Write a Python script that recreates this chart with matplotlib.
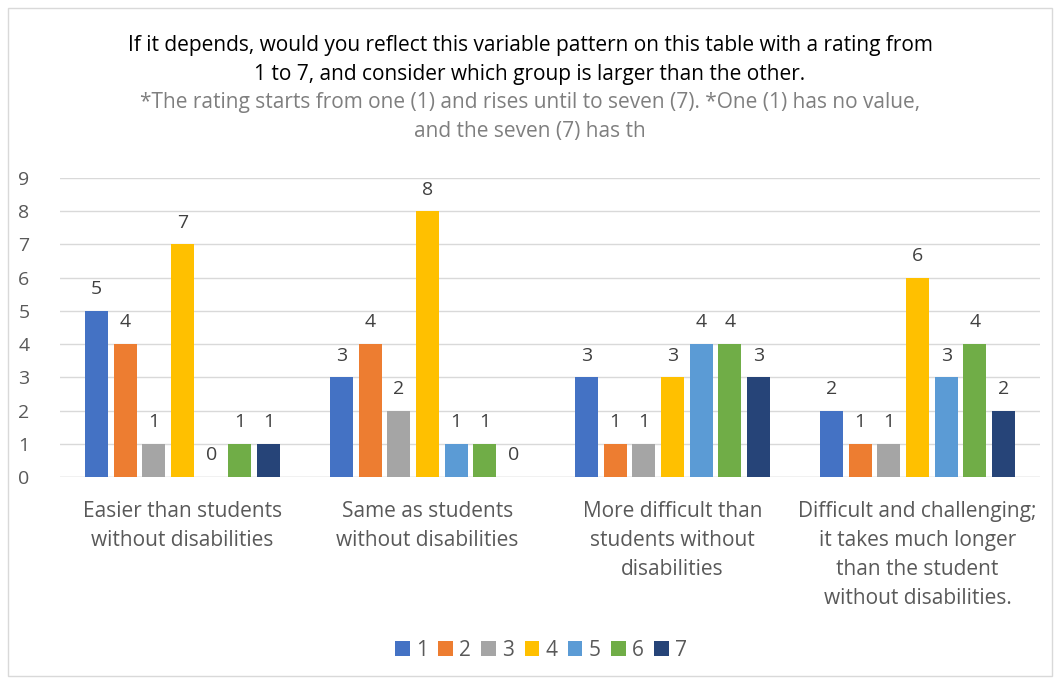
import numpy as np
import matplotlib.pyplot as plt
from matplotlib.patches import Rectangle

categories = [
    "Easier than students\nwithout disabilities",
    "Same as students\nwithout disabilities",
    "More difficult than\nstudents without\ndisabilities",
    "Difficult and challenging;\nit takes much longer\nthan the student\nwithout disabilities.",
]
series_names = ["1", "2", "3", "4", "5", "6", "7"]
values = [
    [5, 3, 3, 2],  # 1
    [4, 4, 1, 1],  # 2
    [1, 2, 1, 1],  # 3
    [7, 8, 3, 6],  # 4
    [0, 1, 4, 3],  # 5
    [1, 1, 4, 4],  # 6
    [1, 0, 3, 2],  # 7
]
colors = ["#4472C4", "#ED7D31", "#A5A5A5", "#FFC000", "#5B9BD5", "#70AD47", "#264478"]

title1 = ("If it depends, would you reflect this variable pattern on this table with a rating from\n"
          "1 to 7, and consider which group is larger than the other.")
title2 = ("*The rating starts from one (1) and rises until to seven (7). *One (1) has no value,\n"
          "and the seven (7) has th")

plt.rcParams["font.family"] = ["Open Sans", "DejaVu Sans"]
txt = "#595959"

fig = plt.figure(figsize=(10.6, 6.82), dpi=100)
fig.patches.append(Rectangle((8 / 1060, 6 / 682), 1044 / 1060, 668 / 682, transform=fig.transFigure,
                             fill=False, edgecolor="#D9D9D9", linewidth=1))
ax = fig.add_axes([60 / 1060, 1 - 477 / 682, 980 / 1060, 299 / 682])

x = np.arange(len(categories))
step = 0.117
width = 0.093
for i, (name, vals) in enumerate(zip(series_names, values)):
    pos = x + (i - 3) * step
    bars = ax.bar(pos, vals, width, color=colors[i], label=name, zorder=3)
    for b, v in zip(bars, vals):
        ax.text(b.get_x() + b.get_width() / 2, v + 0.38, str(v), ha="center", va="bottom",
                fontsize=14, color="#404040")

ax.set_xlim(-0.5, len(categories) - 0.5)
ax.set_ylim(0, 9)
ax.set_yticks(range(0, 10))
ax.yaxis.grid(True, color="#D9D9D9", linewidth=1, zorder=0)
ax.set_xticks(x)
ax.set_xticklabels(categories, fontsize=15, color=txt, linespacing=1.5, va="top")
ax.tick_params(axis="both", length=0, labelcolor=txt)
ax.tick_params(axis="x", pad=17, labelsize=15)
ax.tick_params(axis="y", pad=22, labelsize=14)
for s in ax.spines.values():
    s.set_visible(False)
ax.axhline(0, color="#D9D9D9", linewidth=1, zorder=2)

fig.text(0.5, 1 - 60 / 682, title1, ha="center", va="center", fontsize=15, color="#000000",
         linespacing=1.55)
fig.text(0.5, 1 - 117 / 682, title2, ha="center", va="center", fontsize=15, color="#7F7F7F",
         linespacing=1.5)

fig.legend(loc="center", bbox_to_anchor=(541 / 1060, 1 - 650 / 682), ncol=7, frameon=False,
           fontsize=15, handlelength=0.7, handleheight=0.7, handletextpad=0.3, columnspacing=0.5,
           labelcolor=txt)

fig.savefig("out.png", dpi=100)
